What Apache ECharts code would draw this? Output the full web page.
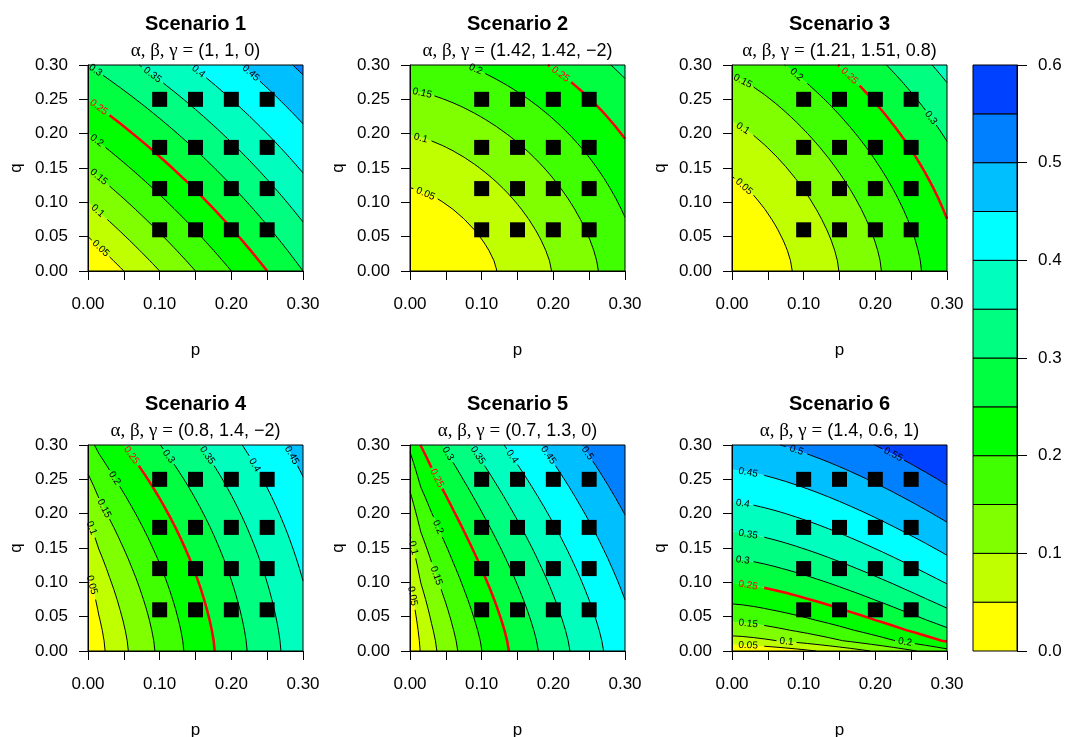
<!DOCTYPE html>
<html>
<head>
<meta charset="utf-8">
<script src="https://cdn.jsdelivr.net/npm/echarts@6/dist/echarts.min.js"></script>
<style>
html,body{margin:0;padding:0;background:#ffffff;}
#chart{width:1066px;height:737px;}
</style>
</head>
<body>
<div id="chart"></div>
<script>
// ---------------- data ----------------
const scenarioTitles = ['Scenario 1', 'Scenario 2', 'Scenario 3', 'Scenario 4', 'Scenario 5', 'Scenario 6'];
const alphaValues = [1, 1.42, 1.21, 0.8, 0.7, 1.4];
const betaValues  = [1, 1.42, 1.51, 1.4, 1.3, 0.6];
const gammaValues = [0, -2, 0.8, -2, 0, 1];
const paramTexts  = ['1, 1, 0', '1.42, 1.42, \u22122', '1.21, 1.51, 0.8', '0.8, 1.4, \u22122', '0.7, 1.3, 0', '1.4, 0.6, 1'];
const doseLevelsP = [0.10, 0.15, 0.20, 0.25];
const doseLevelsQ = [0.06, 0.12, 0.18, 0.25];
const bandBreaks  = [0, 0.05, 0.10, 0.15, 0.20, 0.25, 0.30, 0.35, 0.40, 0.45, 0.50, 0.55, 0.60];
const bandColors  = ['#FFFF00', '#BFFF00', '#80FF00', '#40FF00', '#00FF00', '#00FF40',
                     '#00FF80', '#00FFBF', '#00FFFF', '#00BFFF', '#0080FF', '#0040FF'];
const contourLevels = [0.05, 0.10, 0.15, 0.20, 0.30, 0.35, 0.40, 0.45, 0.50, 0.55];
const targetLevel = 0.25;
const axisMin = 0, axisMax = 0.30, axisStep = 0.05;
const keyMin = 0, keyMax = 0.6, keyStep = 0.1;

// ---------------- surface (Gumbel combination model given by the subtitles) ----------------
const CELLS = 20;
const gridPts = [];
for (let i = 0; i <= CELLS; i++) gridPts.push(axisMin + (axisMax - axisMin) * i / CELLS);

function surfaceFor(k) {
  const a = alphaValues[k], b = betaValues[k], g = gammaValues[k];
  const t = (Math.exp(g) - 1) / (Math.exp(g) + 1);
  const Z = [];
  for (let j = 0; j <= CELLS; j++) {
    const row = [];
    for (let i = 0; i <= CELLS; i++) {
      const A = Math.pow(gridPts[i], a), B = Math.pow(gridPts[j], b);
      row.push(A + B - A * B + A * B * (1 - A) * (1 - B) * t);
    }
    Z.push(row);
  }
  return Z;
}

function lerpPt(A, B, thr) {
  const t = (thr - A[2]) / (B[2] - A[2]);
  return [A[0] + t * (B[0] - A[0]), A[1] + t * (B[1] - A[1]), thr];
}
function clipPoly(poly, thr, keepAbove) {
  const out = [];
  const n = poly.length;
  for (let i = 0; i < n; i++) {
    const A = poly[i], B = poly[(i + 1) % n];
    const ain = keepAbove ? A[2] >= thr : A[2] <= thr;
    const bin = keepAbove ? B[2] >= thr : B[2] <= thr;
    if (ain && bin) out.push(B);
    else if (ain) out.push(lerpPt(A, B, thr));
    else if (bin) { out.push(lerpPt(A, B, thr)); out.push(B); }
  }
  return out;
}
function bandIndex(v) {
  for (let b = 0; b < bandColors.length; b++) if (v < bandBreaks[b + 1]) return b;
  return bandColors.length - 1;
}

function bandPolygons(Z) {
  const bands = bandColors.map(() => []);
  for (let j = 0; j < CELLS; j++) {
    let run = null;
    const flush = () => {
      if (run) {
        const x0 = gridPts[run.i0], x1 = gridPts[run.i1 + 1], y0 = gridPts[j], y1 = gridPts[j + 1];
        bands[run.b].push([[x0, y0], [x1, y0], [x1, y1], [x0, y1]]);
        run = null;
      }
    };
    for (let i = 0; i < CELLS; i++) {
      const v00 = Z[j][i], v10 = Z[j][i + 1], v01 = Z[j + 1][i], v11 = Z[j + 1][i + 1];
      const mn = Math.min(v00, v10, v01, v11), mx = Math.max(v00, v10, v01, v11);
      const b0 = bandIndex(mn), b1 = bandIndex(mx);
      if (b0 === b1) {
        if (run && run.b === b0) run.i1 = i;
        else { flush(); run = { b: b0, i0: i, i1: i }; }
      } else {
        flush();
        const x0 = gridPts[i], x1 = gridPts[i + 1], y0 = gridPts[j], y1 = gridPts[j + 1];
        const sq = [[x0, y0, v00], [x1, y0, v10], [x1, y1, v11], [x0, y1, v01]];
        for (let b = b0; b <= b1; b++) {
          let p = clipPoly(sq, bandBreaks[b], true);
          if (p.length >= 3) p = clipPoly(p, bandBreaks[b + 1], false);
          if (p.length >= 3) bands[b].push(p.map(q => [q[0], q[1]]));
        }
      }
    }
    flush();
  }
  return bands;
}

function traceLevel(Z, L) {
  const pts = new Map(), adj = new Map(), segs = [];
  const ep = (key, xa, ya, va, xb, yb, vb) => {
    if (!pts.has(key)) { const t = (L - va) / (vb - va); pts.set(key, [xa + t * (xb - xa), ya + t * (yb - ya)]); }
    return key;
  };
  const addSeg = (a, b) => {
    const s = segs.length; segs.push([a, b]);
    if (!adj.has(a)) adj.set(a, []); adj.get(a).push(s);
    if (!adj.has(b)) adj.set(b, []); adj.get(b).push(s);
  };
  for (let j = 0; j < CELLS; j++) {
    for (let i = 0; i < CELLS; i++) {
      const v00 = Z[j][i], v10 = Z[j][i + 1], v01 = Z[j + 1][i], v11 = Z[j + 1][i + 1];
      const x0 = gridPts[i], x1 = gridPts[i + 1], y0 = gridPts[j], y1 = gridPts[j + 1];
      const cr = [];
      if ((v00 >= L) !== (v10 >= L)) cr.push(ep('h' + i + '_' + j, x0, y0, v00, x1, y0, v10));
      if ((v10 >= L) !== (v11 >= L)) cr.push(ep('v' + (i + 1) + '_' + j, x1, y0, v10, x1, y1, v11));
      if ((v01 >= L) !== (v11 >= L)) cr.push(ep('h' + i + '_' + (j + 1), x0, y1, v01, x1, y1, v11));
      if ((v00 >= L) !== (v01 >= L)) cr.push(ep('v' + i + '_' + j, x0, y0, v00, x0, y1, v01));
      if (cr.length === 2) addSeg(cr[0], cr[1]);
      else if (cr.length === 4) { addSeg(cr[0], cr[1]); addSeg(cr[2], cr[3]); }
    }
  }
  const used = new Array(segs.length).fill(false);
  const walk = (start) => {
    const line = [pts.get(start)]; let cur = start;
    for (;;) {
      const list = adj.get(cur); let nx = -1;
      for (const s of list) if (!used[s]) { nx = s; break; }
      if (nx < 0) break;
      used[nx] = true;
      cur = segs[nx][0] === cur ? segs[nx][1] : segs[nx][0];
      line.push(pts.get(cur));
    }
    return line;
  };
  const lines = [];
  for (const [key, list] of adj) if (list.length === 1 && !used[list[0]]) lines.push(walk(key));
  for (let s = 0; s < segs.length; s++) if (!used[s]) lines.push(walk(segs[s][0]));
  // start every open line at its left (then upper) end
  return lines.filter(l => l.length > 1).map(l => {
    const a = l[0], b = l[l.length - 1];
    if (a[0] > b[0] + 1e-12 || (Math.abs(a[0] - b[0]) <= 1e-12 && a[1] < b[1])) l.reverse();
    return l;
  });
}

const panels = scenarioTitles.map((_, k) => {
  const Z = surfaceFor(k);
  const lines = {};
  contourLevels.concat([targetLevel]).forEach(L => { lines[L] = traceLevel(Z, L); });
  return { bands: bandPolygons(Z), lines };
});

// ---------------- label placement (flattest section, as R's contour does) ----------------
const LABEL_FONT_SIZE = 10;
const LABEL_FONT_FAMILY = 'Liberation Sans';
const measureCtx = document.createElement('canvas').getContext('2d');
function textWidth(s) { measureCtx.font = LABEL_FONT_SIZE + 'px "' + LABEL_FONT_FAMILY + '"'; return measureCtx.measureText(s).width; }
function fmtLevel(L) { return String(parseFloat(L.toFixed(2))); }

function findCorners(tw, th, p0, p1) {
  const d = th / tw;
  const dx = (p1[0] - p0[0]) * d, dy = (p1[1] - p0[1]) * d;
  return [[p0[0] - dy, p0[1] + dx], [p0[0] + dy, p0[1] - dx], [p1[0] + dy, p1[1] - dx], [p1[0] - dy, p1[1] + dx]];
}
function overlaps(A, B) {
  for (const P of [A, B]) {
    for (let i = 0; i < 4; i++) {
      const p = P[i], q = P[(i + 1) % 4];
      const nx = q[1] - p[1], ny = p[0] - q[0];
      let amin = Infinity, amax = -Infinity, bmin = Infinity, bmax = -Infinity;
      for (const c of A) { const v = c[0] * nx + c[1] * ny; amin = Math.min(amin, v); amax = Math.max(amax, v); }
      for (const c of B) { const v = c[0] * nx + c[1] * ny; bmin = Math.min(bmin, v); bmax = Math.max(bmax, v); }
      if (amax < bmin || bmax < amin) return false;
    }
  }
  return true;
}
function placeLabel(line, px, tw, th, placed, win) {
  const ns = line.length;
  let lowest = 9999999, indx = -1, range = 0;
  for (let iii = 0; iii < ns; iii++) {
    let dist = 0, avg = 0, sq = 0, n = 0, jjj = iii + 1;
    while (jjj < ns - 1 && dist < tw) {
      dist = Math.hypot(px[jjj][0] - px[iii][0], px[jjj][1] - px[iii][1]);
      let dX = line[jjj][0] - line[jjj - 1][0];
      const dY = line[jjj][1] - line[jjj - 1][1];
      if (dX === 0) dX = 1;
      avg += dY / dX; sq += avg * avg; jjj++; n++;
    }
    if (dist < tw) break;
    const c = findCorners(tw, th, px[iii], px[iii + n]);
    if (placed.some(P => overlaps(P, c))) continue;
    if (!c.every(p => p[0] >= win.l && p[0] <= win.r && p[1] >= win.t && p[1] <= win.b)) continue;
    avg /= n;
    const variance = (sq - avg * avg) / n;
    if (variance < lowest) { lowest = variance; indx = iii; range = n; }
  }
  if (indx < 0) return null;
  placed.push(findCorners(tw, th, px[indx], px[indx + range]));
  return { indx, range };
}

function makeFillRender(k) {
  return function (params, api) {
    const children = [];
    panels[k].bands.forEach((polys, b) => {
      if (!polys.length) return;
      let d = '';
      for (const poly of polys) {
        for (let i = 0; i < poly.length; i++) {
          const c = api.coord(poly[i]);
          d += (i ? 'L' : 'M') + c[0].toFixed(2) + ' ' + c[1].toFixed(2);
        }
        d += 'Z';
      }
      children.push({ type: 'path', shape: { pathData: d }, style: { fill: bandColors[b], stroke: null } });
    });
    return { type: 'group', children };
  };
}

function makeContourRender(k) {
  return function (params, api) {
    const children = [];
    const c00 = api.coord([axisMin, axisMin]), c11 = api.coord([axisMax, axisMax]);
    const device = { l: 0, r: api.getWidth(), t: 0, b: api.getHeight() };
    const groups = [
      { levels: contourLevels, color: '#000000', width: 1 },
      { levels: [targetLevel], color: '#FF0000', width: 2.5 }
    ];
    const th = LABEL_FONT_SIZE * 0.75;
    for (const g of groups) {
      const placed = [];
      for (const L of g.levels) {
        const text = fmtLevel(L);
        const tw = textWidth(text) + 4;
        for (const line of panels[k].lines[L]) {
          const px = line.map(p => api.coord(p));
          const res = placeLabel(line, px, tw, th, placed, device);
          const lineStyle = { stroke: g.color, lineWidth: g.width, fill: null, lineJoin: 'round', lineCap: 'butt' };
          if (!res) {
            children.push({ type: 'polyline', shape: { points: px }, style: lineStyle });
            continue;
          }
          const a = px.slice(0, res.indx + 1), b = px.slice(res.indx + res.range);
          if (a.length > 1) children.push({ type: 'polyline', shape: { points: a }, style: lineStyle });
          if (b.length > 1) children.push({ type: 'polyline', shape: { points: b }, style: lineStyle });
          const p0 = px[res.indx], p1 = px[res.indx + res.range];
          let ang = Math.atan2(-(p1[1] - p0[1]), p1[0] - p0[0]);
          if (ang > Math.PI / 2) ang -= Math.PI;
          if (ang < -Math.PI / 2) ang += Math.PI;
          children.push({
            type: 'text', x: (p0[0] + p1[0]) / 2, y: (p0[1] + p1[1]) / 2, rotation: ang,
            style: { text, fill: g.color, fontSize: LABEL_FONT_SIZE, fontFamily: LABEL_FONT_FAMILY,
                     align: 'center', verticalAlign: 'middle', textAlign: 'center', textVerticalAlign: 'middle' }
          });
        }
      }
    }
    children.push({ type: 'rect', shape: { x: c00[0], y: c11[1], width: c11[0] - c00[0], height: c00[1] - c11[1] },
                    style: { fill: null, stroke: '#000000', lineWidth: 1 } });
    return { type: 'group', children };
  };
}

// ---------------- layout ----------------
const colLeft = [88, 410, 732], rowTop = [65, 445], PW = 215, PH = 206;
const FONT = 'Liberation Sans';

const grids = [], xAxes = [], yAxes = [], series = [], titles = [];
scenarioTitles.forEach((name, k) => {
  const left = colLeft[k % 3], top = rowTop[Math.floor(k / 3)];
  grids.push({ left, top, width: PW, height: PH, containLabel: false, outerBoundsMode: 'none', show: false });
  xAxes.push({
    gridIndex: k, type: 'value', min: axisMin, max: axisMax, interval: axisStep, z: 10,
    axisLine: { show: true, onZero: false, lineStyle: { color: '#000', width: 1 } },
    axisTick: { show: true, inside: false, length: 9, lineStyle: { color: '#000', width: 1 } },
    axisLabel: { formatter: v => (Math.round(v * 100) % 10 === 0 ? v.toFixed(2) : ''), fontSize: 17, color: '#000', fontFamily: FONT, margin: 25, showMinLabel: true, showMaxLabel: true, hideOverlap: false },
    splitLine: { show: false },
    name: 'p', nameLocation: 'middle', nameGap: 71, nameMoveOverlap: false,
    nameTextStyle: { fontSize: 17, color: '#000', fontFamily: FONT }
  });
  yAxes.push({
    gridIndex: k, type: 'value', min: axisMin, max: axisMax, interval: axisStep, z: 10,
    axisLine: { show: true, onZero: false, lineStyle: { color: '#000', width: 1 } },
    axisTick: { show: true, inside: false, length: 9, lineStyle: { color: '#000', width: 1 } },
    axisLabel: { formatter: v => v.toFixed(2), fontSize: 17, color: '#000', fontFamily: FONT, margin: 20, showMinLabel: true, showMaxLabel: true, hideOverlap: false },
    splitLine: { show: false },
    name: 'q', nameLocation: 'middle', nameGap: 63, nameMoveOverlap: false,
    nameTextStyle: { fontSize: 17, color: '#000', fontFamily: FONT }
  });
  series.push({ type: 'custom', xAxisIndex: k, yAxisIndex: k, silent: true, z: 1, clip: false,
                renderItem: makeFillRender(k), data: [[axisMin, axisMin]] });
  series.push({ type: 'custom', xAxisIndex: k, yAxisIndex: k, silent: true, z: 3, clip: false,
                renderItem: makeContourRender(k), data: [[axisMin, axisMin]] });
  const pts = [];
  doseLevelsQ.forEach(q => doseLevelsP.forEach(p => pts.push([p, q])));
  series.push({ type: 'scatter', xAxisIndex: k, yAxisIndex: k, silent: true, z: 5, symbol: 'rect', symbolSize: 15,
                itemStyle: { color: '#000', opacity: 1 }, data: pts });
  const cx = left + PW / 2;
  titles.push({ text: name, left: cx, top: top - 51, padding: 0, textAlign: 'center',
                textStyle: { fontFamily: FONT, fontSize: 20, fontWeight: 'bold', color: '#000' } });
  titles.push({ text: '{g|\u03b1, \u03b2, \u03b3 =} {n|(' + paramTexts[k] + ')}', left: cx, top: top - 23, padding: 0, textAlign: 'center',
                textStyle: { fontWeight: 'normal', rich: {
                  g: { fontFamily: 'Liberation Serif', fontSize: 19, fontWeight: 'normal', color: '#000' },
                  n: { fontFamily: FONT, fontSize: 18, fontWeight: 'normal', color: '#000' } } } });
});

// colour key
grids.push({ left: 973, top: 65, width: 44, height: 586, containLabel: false, outerBoundsMode: 'none', show: false });
xAxes.push({ gridIndex: 6, type: 'value', min: 0, max: 1, show: false });
yAxes.push({
  gridIndex: 6, type: 'value', position: 'right', min: keyMin, max: keyMax, interval: keyStep,
  axisLine: { show: true, onZero: false, lineStyle: { color: '#000', width: 1 } },
  axisTick: { show: true, inside: false, length: 10, lineStyle: { color: '#000', width: 1 } },
  axisLabel: { formatter: v => v.toFixed(1), fontSize: 17, color: '#000', fontFamily: FONT, margin: 21, showMinLabel: true, showMaxLabel: true },
  splitLine: { show: false }
});
series.push({
  type: 'custom', xAxisIndex: 6, yAxisIndex: 6, silent: true, z: 2, clip: false,
  encode: { x: 0, y: 1 },
  data: bandColors.map((c, i) => [0, bandBreaks[i], bandBreaks[i + 1], i]),
  renderItem: function (params, api) {
    const p0 = api.coord([0, api.value(1)]), p1 = api.coord([1, api.value(2)]);
    return { type: 'rect', shape: { x: p0[0], y: p1[1], width: p1[0] - p0[0], height: p0[1] - p1[1] },
             style: { fill: bandColors[api.value(3)], stroke: '#000', lineWidth: 1 } };
  }
});

const chart = echarts.init(document.getElementById('chart'), null, { renderer: 'canvas' });
chart.setOption({
  animation: false,
  backgroundColor: '#ffffff',
  title: titles,
  grid: grids,
  xAxis: xAxes,
  yAxis: yAxes,
  series: series
});
</script>
</body>
</html>
